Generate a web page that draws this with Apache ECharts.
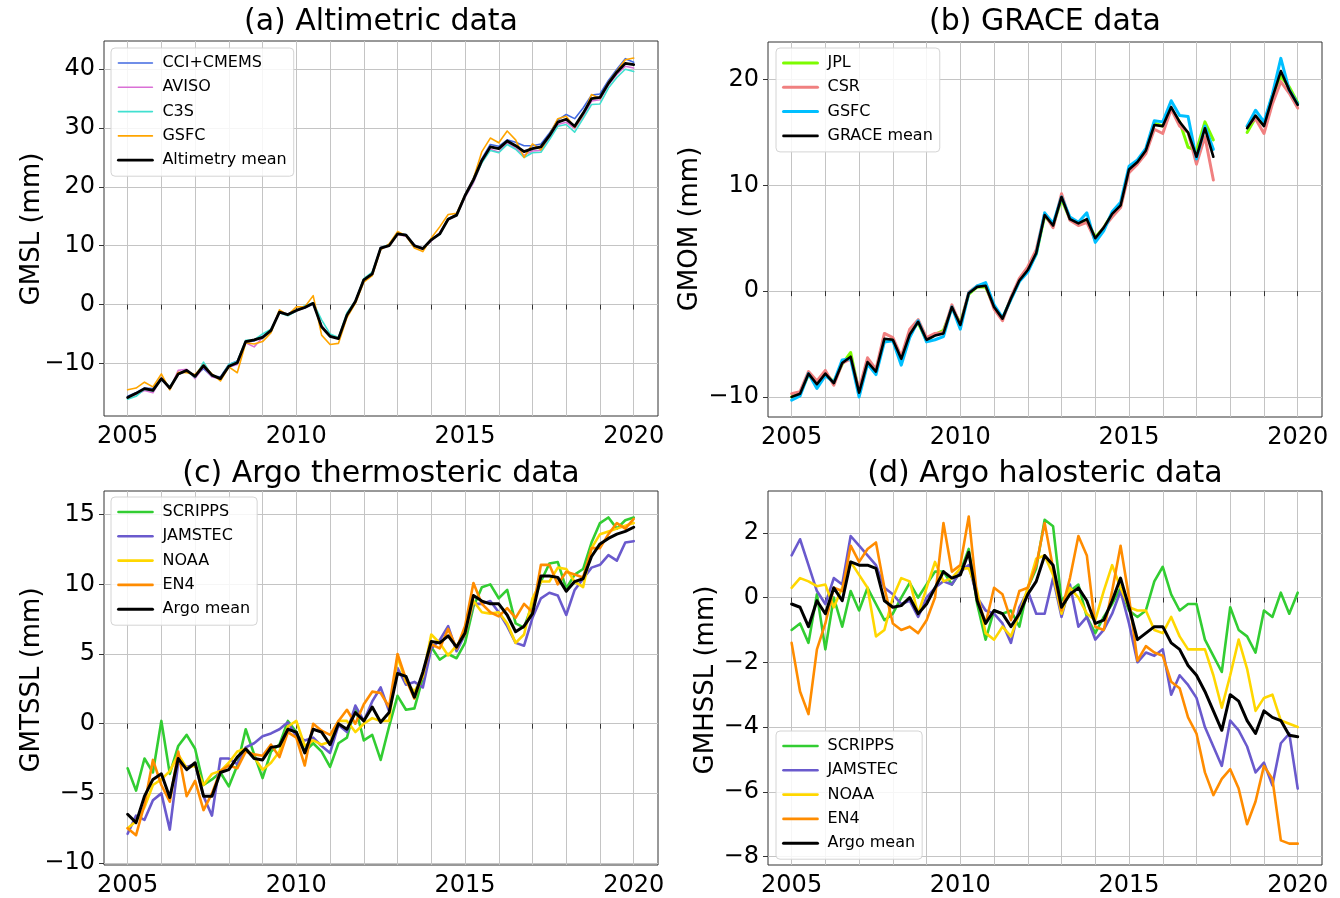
<!DOCTYPE html>
<html>
<head>
<meta charset="utf-8">
<script src="https://cdn.jsdelivr.net/npm/echarts@6/dist/echarts.min.js"></script>
<style>
  html, body { margin: 0; background: #fff; }
  #chart { width: 1340px; height: 898px; }
</style>
</head>
<body>
<div id="chart"></div>
<script>
// time stamps (decimal years, quarterly samples)
var quarters = [
  2005, 2005.25, 2005.5, 2005.75, 2006, 2006.25, 2006.5, 2006.75, 2007, 2007.25, 2007.5, 2007.75,
  2008, 2008.25, 2008.5, 2008.75, 2009, 2009.25, 2009.5, 2009.75, 2010, 2010.25, 2010.5, 2010.75,
  2011, 2011.25, 2011.5, 2011.75, 2012, 2012.25, 2012.5, 2012.75, 2013, 2013.25, 2013.5, 2013.75,
  2014, 2014.25, 2014.5, 2014.75, 2015, 2015.25, 2015.5, 2015.75, 2016, 2016.25, 2016.5, 2016.75,
  2017, 2017.25, 2017.5, 2017.75, 2018, 2018.25, 2018.5, 2018.75, 2019, 2019.25, 2019.5, 2019.75, 2020
];
var yearTicks = [2005, 2006, 2007, 2008, 2009, 2010, 2011, 2012, 2013, 2014, 2015, 2016, 2017, 2018, 2019, 2020];
var yearLabels = [2005, 2010, 2015, 2020];

// (a) altimetry, GMSL in mm
var altCci = [-15.6,-15.0,-14.2,-14.3, -12.8,-14.1,-11.9,-11.3, -12.1,-10.9,-12.2,-12.3, -10.2,-9.6,-6.4,-6.2, -5.4,-4.3,-1.3,-1.6, -1.0,-0.6,0.1,-3.6, -5.3,-5.7,-1.8,0.6, 4.3,5.3,9.7,10.1, 12.1,11.9,10.1,9.6, 11.1,12.1,14.6,15.3, 18.7,21.5,24.8,27.2, 26.9,28.0,27.6,27.0, 27.0,27.3,29.1,31.4, 32.3,31.6,33.4,35.6, 35.8,38.1,40.0,41.8, 41.2];
var altAviso = [-15.8,-15.3,-14.6,-15.0, -12.5,-14.4,-11.2,-11.0, -12.6,-10.6,-12.3,-12.6, -10.6,-10.2,-6.5,-7.2, -5.6,-4.3,-1.2,-1.8, -1.1,-0.4,0.2,-3.6, -5.4,-5.8,-1.6,0.4, 4.0,5.0,9.5,10.0, 11.9,11.6,9.9,9.4, 10.8,12.2,14.4,15.1, 18.2,20.7,24.2,26.4, 25.9,27.5,26.6,25.4, 26.1,26.2,28.3,30.6, 31.0,29.9,32.0,34.6, 34.8,37.3,39.1,40.5, 40.2];
var altC3s = [-16.1,-15.6,-14.4,-14.7, -12.7,-14.0,-11.8,-11.3, -12.4,-9.8,-12.1,-12.5, -10.2,-9.7,-6.1,-6.0, -5.0,-4.2,-1.4,-1.9, -1.1,-0.2,0.3,-2.6, -5.0,-5.6,-1.4,0.6, 4.4,5.5,9.6,10.2, 12.1,11.8,10.0,9.5, 11.0,11.9,14.6,15.1, 18.4,21.0,24.1,26.2, 25.8,27.2,26.4,25.0, 25.8,25.9,28.0,30.3, 30.6,29.3,31.6,34.0, 34.1,36.8,38.6,40.0, 39.6];
var altGsfc = [-14.5,-14.2,-13.2,-14.0, -11.8,-14.5,-11.5,-11.6, -11.9,-10.3,-11.8,-13.0, -10.6,-11.6,-6.5,-6.7, -6.3,-4.8,-0.9,-1.8, -0.4,-0.4,1.5,-5.2, -6.8,-6.6,-2.2,0.2, 3.8,4.9,9.3,10.3, 12.4,11.7,9.6,9.0, 11.3,13.2,15.3,15.5, 18.6,21.4,26.0,28.3, 27.5,29.5,28.0,25.0, 27.3,26.3,28.8,31.6, 32.0,30.1,32.3,35.7, 35.0,37.8,39.7,41.6, 41.9];
var altMean = [-15.8,-15.1,-14.3,-14.6, -12.6,-14.2,-11.8,-11.2, -12.2,-10.4,-12.0,-12.6, -10.5,-9.9,-6.3,-6.0, -5.6,-4.4,-1.3,-1.7, -1.0,-0.5,0.2,-3.8, -5.4,-5.8,-1.8,0.5, 4.2,5.2,9.6,10.0, 12.0,11.8,10.0,9.5, 11.0,12.0,14.5,15.2, 18.5,21.2,24.5,26.8, 26.5,27.8,27.0,26.0, 26.5,26.8,28.7,31.0, 31.5,30.3,32.5,35.0, 35.2,37.6,39.5,41.0, 40.8];

// (b) GRACE, GMOM in mm (null = no data, mid-2017 to mid-2018)
var grJpl = [-10.0,-9.7,-7.9,-8.8, -7.8,-8.6,-6.9,-5.8, -9.6,-6.8,-7.5,-4.6, -4.6,-6.3,-4.0,-3.0, -4.7,-4.1,-3.7,-1.6, -3.0,-0.3,0.4,0.4, -1.5,-2.6,-0.7,1.0, 2.0,3.5,7.1,6.2, 8.7,6.8,6.5,6.7, 5.1,6.0,7.3,8.0, 11.5,12.3,13.3,15.9, 15.6,17.2,16.0,13.6, 13.3,16.0,14.3,null, null,null,15.0,16.4, 15.7,18.5,20.3,19.3, 17.8];
var grCsr = [-9.7,-9.5,-7.6,-8.5, -7.5,-8.9,-6.8,-6.4, -9.3,-6.3,-7.4,-4.0, -4.4,-6.2,-3.6,-2.7, -4.4,-4.0,-3.9,-1.3, -3.2,-0.1,0.5,0.6, -1.7,-2.8,-0.6,1.2, 2.3,3.9,7.3,6.0, 9.2,6.7,6.2,6.5, 4.8,6.0,7.0,7.9, 11.2,12.0,13.0,15.3, 14.9,17.2,15.6,15.0, 12.0,14.6,10.5,null, null,null,15.6,16.3, 14.9,17.7,19.8,18.7, 17.3];
var grGsfc = [-10.3,-9.9,-7.8,-9.2, -8.0,-8.6,-6.5,-6.4, -10.0,-6.9,-7.9,-4.8, -4.7,-7.0,-4.4,-2.8, -4.8,-4.6,-4.3,-1.5, -3.6,-0.2,0.5,0.8, -1.3,-2.5,-0.8,0.9, 1.8,3.5,7.4,6.4, 8.9,7.0,6.5,7.4, 4.6,5.7,7.5,8.4, 11.8,12.4,13.5,16.1, 16.0,18.0,16.6,16.5, 12.5,15.6,13.4,null, null,null,15.6,17.1, 16.0,18.6,22.0,19.0, 17.7];
var grMean = [-10.0,-9.7,-7.8,-8.8, -7.8,-8.7,-6.8,-6.2, -9.6,-6.7,-7.6,-4.5, -4.6,-6.4,-4.1,-2.9, -4.6,-4.2,-4.0,-1.5, -3.2,-0.2,0.4,0.5, -1.5,-2.6,-0.7,1.0, 2.0,3.6,7.2,6.2, 8.9,6.8,6.4,6.8, 5.0,6.0,7.3,8.1, 11.5,12.2,13.3,15.7, 15.6,17.4,16.0,15.0, 12.7,15.4,12.7,null, null,null,15.4,16.6, 15.6,18.3,20.8,19.0, 17.6];

// (c) Argo thermosteric, GMTSSL in mm
var thScripps = [-3.2,-4.8,-2.5,-3.5, 0.2,-3.6,-1.6,-0.8, -1.8,-4.4,-4.0,-3.5, -4.5,-3.0,-0.4,-2.2, -3.9,-2.0,-1.5,0.2, -0.6,-2.0,-1.4,-2.0, -3.1,-1.4,-1.0,1.2, -1.2,-0.8,-2.6,-0.2, 2.0,1.0,1.1,3.3, 5.5,4.6,5.0,4.7, 5.8,8.4,9.8,10.0, 9.0,9.6,7.2,6.9, 8.6,10.2,11.5,11.6, 9.7,10.7,11.1,13.0, 14.4,14.8,14.0,14.6, 14.8];
var thJamstec = [-7.9,-6.6,-6.9,-5.5, -5.0,-7.6,-2.8,-3.1, -2.9,-5.2,-6.6,-2.5, -2.5,-2.9,-1.7,-1.4, -0.9,-0.7,-0.4,0.1, -0.9,-1.2,-1.0,-1.6, -2.1,-0.1,-0.6,1.3, 0.2,1.6,2.6,0.9, 4.0,2.8,3.0,2.6, 5.4,6.0,7.0,5.2, 6.4,8.6,8.6,8.8, 8.0,7.0,5.8,5.6, 7.6,9.0,9.4,9.2, 7.8,9.6,10.4,11.2, 11.4,12.1,11.7,13.0, 13.1];
var thNoaa = [-7.5,-7.0,-6.0,-4.4, -4.0,-3.4,-2.2,-3.2, -3.0,-4.4,-3.6,-3.4, -2.8,-2.0,-1.8,-2.4, -3.3,-2.8,-2.0,-0.2, 0.2,-1.6,-1.2,-1.5, -1.3,0.2,0.2,-0.6, 0.0,0.4,0.2,0.2, 4.8,3.0,2.3,3.4, 6.4,5.8,4.9,5.6, 6.4,8.8,8.0,7.9, 8.0,7.2,5.8,6.4, 9.0,10.2,10.2,11.2, 11.1,10.2,9.8,12.6, 13.6,13.8,14.0,14.2, 14.4];
var thEn4 = [-7.5,-8.0,-5.8,-2.6, -4.4,-5.6,-2.0,-5.2, -4.1,-6.2,-5.0,-3.4, -3.0,-3.2,-2.0,-2.2, -2.3,-1.5,-2.4,-0.6, -1.0,-3.0,0.0,-0.5, -0.8,0.2,1.0,0.0, 1.4,2.3,2.2,1.2, 5.0,3.2,1.8,3.6, 5.7,5.4,6.8,5.4, 7.0,10.1,8.6,8.0, 7.7,8.3,7.6,8.6, 8.0,11.4,11.4,10.0, 10.9,10.7,10.5,12.6, 12.6,13.6,14.4,14.0, 14.7];
var thMean = [-6.5,-7.1,-5.2,-4.0, -3.6,-5.3,-2.5,-3.3, -2.8,-5.2,-5.2,-3.5, -3.3,-2.4,-1.8,-2.5, -2.6,-1.7,-1.6,-0.4, -0.6,-2.1,-0.4,-0.6, -1.5,0.0,-0.4,0.8, 0.2,1.2,0.1,0.8, 3.6,3.4,1.9,3.7, 5.9,5.8,6.3,5.5, 6.5,9.2,8.8,8.6, 8.6,7.8,6.6,7.0, 7.9,10.6,10.6,10.5, 9.5,10.2,10.4,12.0, 12.9,13.3,13.6,13.8, 14.1];

// (d) Argo halosteric, GMHSSL in mm
var haScripps = [-1.0,-0.8,-1.4,0.1, -1.6,0.0,-0.9,0.2, -0.4,0.3,-0.2,-0.7, -0.5,0.0,0.45,0.0, 0.4,0.8,0.8,0.4, 0.8,1.5,-0.2,-1.3, -0.4,-0.5,-0.4,-0.9, 0.3,0.9,2.4,2.2, -0.1,0.2,0.4,-0.6, -1.1,-0.6,-0.2,0.3, -0.4,-0.6,-0.4,0.5, 0.95,0.1,-0.4,-0.2, -0.2,-1.3,-1.8,-2.3, -0.3,-1.0,-1.2,-1.7, -0.4,-0.6,0.15,-0.5, 0.15];
var haJamstec = [1.3,1.8,1.0,0.2, -0.2,0.6,0.4,1.9, 1.6,1.3,1.0,0.3, 0.1,-0.2,-0.1,-0.6, 0.0,0.3,0.5,0.4, 0.8,1.0,0.0,-0.4, -0.5,-0.8,-1.4,-0.3, 0.2,-0.5,-0.5,0.6, -0.6,0.4,-0.9,-0.6, -1.3,-1.0,-0.5,0.2, -0.8,-2.0,-1.7,-1.8, -1.6,-3.0,-2.4,-2.7, -3.1,-4.0,-4.6,-5.2, -3.8,-4.1,-4.6,-5.4, -5.1,-5.8,-4.5,-4.2, -5.9];
var haNoaa = [0.3,0.6,0.5,0.35, 0.4,-0.3,0.3,1.1, 0.7,0.3,-1.2,-1.0, 0.0,0.6,0.5,-0.5, 0.3,1.1,0.5,0.6, 0.9,0.9,0.2,-1.1, -1.3,-0.9,-1.2,-0.5, 0.3,1.2,1.3,0.7, -0.5,0.3,0.0,-0.5, -0.7,0.2,1.0,0.3, -0.3,-0.4,-0.4,-1.0, -1.1,-0.6,-1.2,-1.6, -1.6,-1.6,-2.4,-3.4, -2.4,-1.3,-2.2,-3.5, -3.1,-3.0,-3.8,-3.9, -4.0];
var haEn4 = [-1.4,-2.9,-3.6,-1.6, -0.8,0.3,0.2,1.6, 1.1,1.5,1.7,0.3, -0.8,-1.0,-0.9,-1.1, -0.7,0.0,2.3,0.8, 1.0,2.5,0.0,-0.8, 0.3,0.1,-0.7,0.2, 0.3,1.0,2.3,0.9, -0.4,0.6,1.9,1.3, -0.9,-1.0,0.2,1.6, 0.0,-1.95,-1.5,-1.7, -1.8,-2.6,-2.8,-3.7, -4.2,-5.4,-6.1,-5.6, -5.3,-5.9,-7.0,-6.3, -5.2,-5.6,-7.5,-7.6, -7.6];
var haMean = [-0.2,-0.3,-0.9,-0.1, -0.5,0.3,-0.1,1.1, 1.0,1.0,0.9,-0.1, -0.3,-0.25,0.0,-0.5, -0.2,0.3,0.8,0.6, 0.7,1.4,-0.1,-0.8, -0.4,-0.5,-0.9,-0.5, 0.1,0.5,1.3,1.0, -0.3,0.1,0.3,-0.1, -0.8,-0.7,-0.1,0.6, -0.3,-1.3,-1.1,-0.9, -0.9,-1.4,-1.6,-2.1, -2.4,-2.9,-3.5,-4.1, -3.0,-3.2,-3.8,-4.2, -3.5,-3.7,-3.8,-4.25, -4.3];

var FONT = 'DejaVu Sans';

// layout of the 4 panels
var panels = [
  { box: [104, 41, 554, 375], yMin: -18.95, yMax: 44.8, yTicks: [-10, 0, 10, 20, 30, 40],
    title: '(a) Altimetric data', titleXY: [381, 22], yName: 'GMSL (mm)', nameXY: [32, 229],
    legend: { left: 111, top: 48 },
    lines: [['CCI+CMEMS', altCci, '#4169E1', 1.6], ['AVISO', altAviso, '#DA70D6', 1.6],
            ['C3S', altC3s, '#40E0D0', 1.6], ['GSFC', altGsfc, '#FFA500', 1.6],
            ['Altimetry mean', altMean, '#000000', 2.8]] },
  { box: [768, 42, 554, 375], yMin: -11.9, yMax: 23.55, yTicks: [-10, 0, 10, 20],
    title: '(b) GRACE data', titleXY: [1045, 22], yName: 'GMOM (mm)', nameXY: [690, 229],
    legend: { left: 776, top: 48 },
    lines: [['JPL', grJpl, '#7CFC00', 3], ['CSR', grCsr, '#F08080', 3],
            ['GSFC', grGsfc, '#00BFFF', 3], ['GRACE mean', grMean, '#000000', 2.6]] },
  { box: [104, 491, 554, 374], yMin: -10.14, yMax: 16.7, yTicks: [-10, -5, 0, 5, 10, 15],
    title: '(c) Argo thermosteric data', titleXY: [381, 474], yName: 'GMTSSL (mm)', nameXY: [32, 680],
    legend: { left: 111, top: 497 },
    lines: [['SCRIPPS', thScripps, '#32CD32', 2.6], ['JAMSTEC', thJamstec, '#6A5ACD', 2.6],
            ['NOAA', thNoaa, '#FFD700', 2.6], ['EN4', thEn4, '#FF8C00', 2.6],
            ['Argo mean', thMean, '#000000', 3]] },
  { box: [768, 491, 554, 375], yMin: -8.26, yMax: 3.29, yTicks: [-8, -6, -4, -2, 0, 2],
    title: '(d) Argo halosteric data', titleXY: [1045, 474], yName: 'GMHSSL (mm)', nameXY: [706, 680],
    legend: { left: 776, top: 731 },
    lines: [['SCRIPPS', haScripps, '#32CD32', 2.6], ['JAMSTEC', haJamstec, '#6A5ACD', 2.6],
            ['NOAA', haNoaa, '#FFD700', 2.6], ['EN4', haEn4, '#FF8C00', 2.6],
            ['Argo mean', haMean, '#000000', 3]] }
];

// matplotlib style unicode minus, no thousands separator
function tickText(v) { return String(v).replace('-', '\u2212'); }

var grids = [], xAxes = [], yAxes = [], series = [], legends = [], graphics = [];

panels.forEach(function (p, i) {
  grids.push({ left: p.box[0], top: p.box[1], width: p.box[2], height: p.box[3],
    show: true, borderColor: '#333', borderWidth: 1, backgroundColor: 'transparent' });

  xAxes.push({
    type: 'value', gridIndex: i, min: 2004.3, max: 2020.72,
    axisLine: { show: false },
    axisTick: { show: true, length: 5, customValues: yearTicks, lineStyle: { color: '#333' } },
    axisLabel: { customValues: yearLabels, fontSize: 24, fontFamily: FONT, color: '#000', margin: 9,
      formatter: tickText },
    splitLine: { show: true, lineStyle: { color: '#c4c4c4', width: 1 } }
  });

  yAxes.push({
    type: 'value', gridIndex: i, min: p.yMin, max: p.yMax,
    axisLine: { show: false },
    axisTick: { show: true, length: 5, customValues: p.yTicks, lineStyle: { color: '#333' } },
    axisLabel: { customValues: p.yTicks, fontSize: 24, fontFamily: FONT, color: '#000', margin: 9,
      formatter: tickText },
    splitLine: { show: true, lineStyle: { color: '#c4c4c4', width: 1 } }
  });

  p.lines.forEach(function (l) {
    series.push({
      type: 'line', name: l[0], xAxisIndex: i, yAxisIndex: i,
      data: quarters.map(function (t, k) { return [t, l[1][k] == null ? '-' : l[1][k]]; }),
      symbol: 'none', silent: true, animation: false,
      color: l[2],
      itemStyle: { color: l[2] },
      lineStyle: { color: l[2], width: l[3], join: 'round', cap: 'round' }
    });
  });

  legends.push({
    left: p.legend.left, top: p.legend.top, orient: 'vertical',
    itemWidth: 34, itemHeight: 14, itemGap: 8.3,
    padding: [7, 7, 8, 6],
    backgroundColor: 'rgba(255,255,255,0.85)', borderColor: '#d4d4d4', borderWidth: 1, borderRadius: 4,
    textStyle: { fontSize: 16, fontFamily: FONT, color: '#000', lineHeight: 16, padding: [0, 0, 0, 5] },
    selectedMode: false,
    data: p.lines.map(function (l) {
      return { name: l[0],
        lineStyle: { color: l[2], width: l[3] },
        itemStyle: { color: 'rgba(0,0,0,0)', borderWidth: 0, opacity: 0 } };
    })
  });

  graphics.push({
    type: 'text', x: p.titleXY[0], y: p.titleXY[1], silent: true,
    style: { text: p.title, font: '30px "' + FONT + '"', fill: '#000', textAlign: 'center', textVerticalAlign: 'middle' }
  });
  graphics.push({
    type: 'text', x: p.nameXY[0], y: p.nameXY[1], rotation: Math.PI / 2, silent: true,
    style: { text: p.yName, font: '26px "' + FONT + '"', fill: '#000', textAlign: 'center', textVerticalAlign: 'middle' }
  });
});

var chart = echarts.init(document.getElementById('chart'), null, { renderer: 'canvas' });
chart.setOption({
  backgroundColor: '#fff',
  animation: false,
  grid: grids,
  xAxis: xAxes,
  yAxis: yAxes,
  legend: legends,
  series: series,
  graphic: graphics
});
</script>
</body>
</html>
